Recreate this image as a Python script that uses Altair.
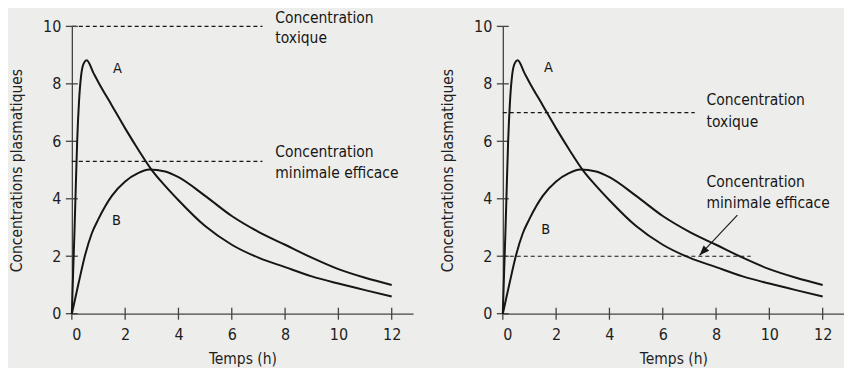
import altair as alt
import pandas as pd

# ---- data ----
t_A = [0, 0.05, 0.1, 0.15, 0.2, 0.27, 0.35, 0.45, 0.56, 0.8, 1.0, 1.5, 2.0, 2.5, 3.0, 3.5, 4.0, 5.0, 6.0, 7.0, 8.0, 9.0, 10.0, 11.0, 12.0]
c_A = [0, 1.5, 2.9, 4.5, 6.0, 7.4, 8.3, 8.72, 8.82, 8.4, 8.05, 7.25, 6.45, 5.7, 5.0, 4.45, 3.95, 3.05, 2.4, 1.95, 1.62, 1.3, 1.05, 0.82, 0.6]
t_B = [0, 0.25, 0.5, 0.75, 1.0, 1.5, 2.0, 2.5, 2.9, 3.5, 4.0, 5.0, 6.0, 7.0, 8.0, 9.0, 10.0, 11.0, 12.0]
c_B = [0, 1.05, 2.05, 2.8, 3.3, 4.1, 4.6, 4.9, 5.02, 4.95, 4.75, 4.1, 3.4, 2.85, 2.4, 1.95, 1.55, 1.25, 1.0]

x_ticks = [0, 2, 4, 6, 8, 10, 12]
y_ticks = [0, 2, 4, 6, 8, 10]

# dashed reference levels and where each dashed line stops, per panel
left_levels = [10.0, 5.3]
left_ends = [7.15, 7.15]
right_levels = [7.0, 2.0]
right_ends = [7.2, 9.3]

label_lines = ["Concentration", "toxique", "Concentration", "minimale efficace"]
left_label_x = 7.63
left_label_y = [10.3, 9.6, 5.63, 4.9]
right_label_x = 7.64
right_label_y = [7.45, 6.68, 4.58, 3.85]

curve_names = ["A", "B"]
left_name_pos = [(1.71, 8.52), (1.67, 3.24)]
right_name_pos = [(1.71, 8.55), (1.61, 2.92)]

arrow_start = (8.8, 3.43)
arrow_tip = (7.38, 2.03)

FONT = "DejaVu Sans Condensed, Liberation Sans Narrow, sans-serif"
INK = "#161616"
W, H = 342, 288

xs = alt.Scale(domain=[0, 12.8], nice=False)
ys = alt.Scale(domain=[0, 10], nice=False)

curves = pd.DataFrame(
    {"t": t_A + t_B, "c": c_A + c_B, "courbe": ["A"] * len(t_A) + ["B"] * len(t_B)}
)


def panel(levels, ends, label_x, label_y, name_pos, with_arrow):
    base_x = alt.X(
        "t:Q",
        scale=xs,
        axis=alt.Axis(
            values=x_ticks, ticks=False, tickSize=0, grid=False, labelPadding=13,
            title="Temps (h)", titlePadding=9,
        ),
    )
    base_y = alt.Y(
        "c:Q",
        scale=ys,
        axis=alt.Axis(
            values=y_ticks, ticks=False, tickSize=0, grid=False, labelPadding=11,
            title="Concentrations plasmatiques", titlePadding=18,
        ),
    )
    lines = (
        alt.Chart(curves)
        .mark_line(interpolate="monotone", color=INK, strokeWidth=2.0)
        .encode(x=base_x, y=base_y, detail="courbe:N")
    )
    xt = alt.Chart(pd.DataFrame({"t": x_ticks, "c": [0] * len(x_ticks)})).mark_tick(
        orient="vertical", size=12, thickness=1.3, color="#444", opacity=1
    ).encode(x=alt.X("t:Q", scale=xs), y=alt.Y("c:Q", scale=ys))
    yt = alt.Chart(pd.DataFrame({"t": [0] * len(y_ticks), "c": y_ticks})).mark_tick(
        orient="horizontal", size=12, thickness=1.3, color="#444", opacity=1
    ).encode(x=alt.X("t:Q", scale=xs), y=alt.Y("c:Q", scale=ys))
    dash = alt.Chart(
        pd.DataFrame({"x0": [0] * len(levels), "x1": ends, "lv": levels})
    ).mark_rule(strokeDash=[4, 3], color=INK, strokeWidth=1.1).encode(
        x=alt.X("x0:Q", scale=xs), x2="x1:Q", y=alt.Y("lv:Q", scale=ys)
    )
    labels = alt.Chart(
        pd.DataFrame({"x": [label_x] * len(label_lines), "y": label_y, "txt": label_lines})
    ).mark_text(
        align="left", baseline="middle", font=FONT, fontSize=15.5, color=INK
    ).encode(x=alt.X("x:Q", scale=xs), y=alt.Y("y:Q", scale=ys), text="txt:N")
    names = alt.Chart(
        pd.DataFrame(
            {"x": [p[0] for p in name_pos], "y": [p[1] for p in name_pos], "txt": curve_names}
        )
    ).mark_text(
        align="center", baseline="middle", font=FONT, fontSize=14.5, color=INK
    ).encode(x=alt.X("x:Q", scale=xs), y=alt.Y("y:Q", scale=ys), text="txt:N")
    layers = [dash, xt, yt, lines, labels, names]
    if with_arrow:
        arr = alt.Chart(
            pd.DataFrame(
                {"x": [arrow_start[0]], "y": [arrow_start[1]], "x2": [arrow_tip[0]], "y2": [arrow_tip[1]]}
            )
        ).mark_rule(color=INK, strokeWidth=1.1).encode(
            x=alt.X("x:Q", scale=xs), y=alt.Y("y:Q", scale=ys), x2="x2:Q", y2="y2:Q"
        )
        head = alt.Chart(
            pd.DataFrame({"x": [arrow_tip[0]], "y": [arrow_tip[1]]})
        ).mark_point(
            shape="M0,0L-0.38,1L0.38,1Z", size=400, angle=223.5,
            filled=True, color=INK, opacity=1
        ).encode(x=alt.X("x:Q", scale=xs), y=alt.Y("y:Q", scale=ys))
        layers += [arr, head]
    return alt.layer(*layers).properties(width=W, height=H)


left = panel(left_levels, left_ends, left_label_x, left_label_y, left_name_pos, False)
right = panel(right_levels, right_ends, right_label_x, right_label_y, right_name_pos, True)

chart = (
    alt.hconcat(left, right, spacing=90, bounds="flush")
    .properties(background="#ededeb", padding={"left": 1, "top": 2, "right": 0, "bottom": 0})
    .configure_view(stroke=None)
    .configure_axis(
        domainColor="#444",
        domainWidth=1.3,
        labelFont=FONT,
        labelFontSize=16,
        labelColor="#1e1e1e",
        titleFont=FONT,
        titleFontSize=15.5,
        titleFontWeight="normal",
        titleColor="#1e1e1e",
    )
)

chart.save("out.html", embed_options={"renderer": "svg", "actions": False})
